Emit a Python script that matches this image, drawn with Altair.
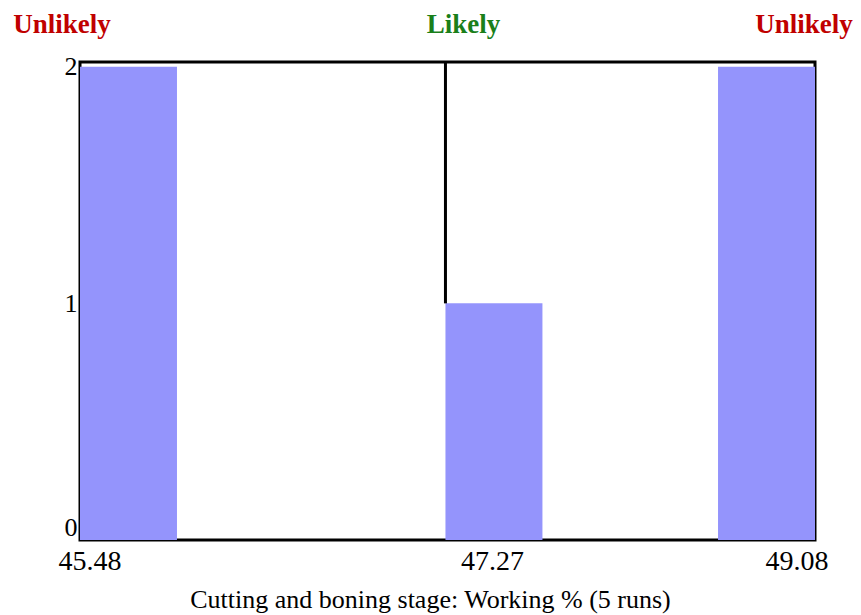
import altair as alt
import pandas as pd

# Histogram data
bin_start = [45.48, 47.27, 48.605]
bin_end = [45.955, 47.745, 49.08]
counts = [2, 1, 2]

tick_values = [45.48, 47.27, 49.08]
tick_labels = ["45.48", "47.27", "49.08"]
y_ticks = [0, 1, 2]
likely_value = 47.27
y_max = 2.02

top_labels = ["Unlikely", "Likely", "Unlikely"]
top_positions = [45.48, 47.27, 49.08]
top_colors = ["#c00000", "#1a7f1a", "#c00000"]

x_title = "Cutting and boning stage: Working % (5 runs)"

FONT = "Liberation Serif"

bars_df = pd.DataFrame({"start": bin_start, "end": bin_end, "count": counts})

xscale = alt.Scale(domain=[tick_values[0], tick_values[-1]], nice=False, zero=False)
yscale = alt.Scale(domain=[0, y_max], nice=False)

xaxis = alt.Axis(values=tick_values, labels=False, ticks=False, domain=False, grid=False,
                 titleFont=FONT, titleFontSize=26, titleFontWeight="normal", titleColor="black",
                 titlePadding=46, titleX=350, titleAlign="center")
yaxis = alt.Axis(values=y_ticks, format=".0f", ticks=False, domain=False, grid=False,
                 labelFont=FONT, labelFontSize=26, labelColor="black", labelPadding=3,
                 labelOverlap=False, labelBound=False, labelFlush=True)

bars = alt.Chart(bars_df).mark_rect(color="#9494fc").encode(
    x=alt.X("start:Q", scale=xscale, title=x_title, axis=xaxis),
    x2="end:Q",
    y=alt.Y("count:Q", scale=yscale, title=None, axis=yaxis),
    y2=alt.datum(0),
)

rule_df = pd.DataFrame({"x": [likely_value], "y": [counts[1]]})
rule = alt.Chart(rule_df).mark_rule(color="black", strokeWidth=3).encode(
    x=alt.X("x:Q", scale=xscale, title=x_title, axis=xaxis),
    y=alt.Y("y:Q", scale=yscale, title=None, axis=yaxis),
    y2=alt.datum(y_max),
)

layers = [bars, rule]

top_dx = [-18, 18, -11]
for lab, pos, col, dx in zip(top_labels, top_positions, top_colors, top_dx):
    t = alt.Chart(pd.DataFrame({"label": [lab], "pos": [pos]})).mark_text(
        font=FONT, fontSize=27, fontWeight="bold", color=col, align="center", baseline="middle", dx=dx,
    ).encode(
        x=alt.X("pos:Q", scale=xscale, title=x_title, axis=xaxis),
        y=alt.value(-37),
        text="label:N",
    )
    layers.append(t)

tick_dx = [10, 47, -18]
for lab, pos, dx in zip(tick_labels, tick_values, tick_dx):
    t = alt.Chart(pd.DataFrame({"label": [lab], "pos": [pos]})).mark_text(
        font=FONT, fontSize=28, color="black", align="center", baseline="middle", dx=dx,
    ).encode(
        x=alt.X("pos:Q", scale=xscale, title=x_title, axis=xaxis),
        y=alt.value(500),
        text="label:N",
    )
    layers.append(t)

chart = alt.layer(*layers).properties(
    width=735, height=478,
    background="white",
    autosize=alt.AutoSizeParams(type="none"),
    padding={"left": 72, "top": 54, "right": 38, "bottom": 75},
).configure_view(stroke="black", strokeWidth=3)

chart.save("out.html", embed_options={"renderer": "svg", "actions": False})
